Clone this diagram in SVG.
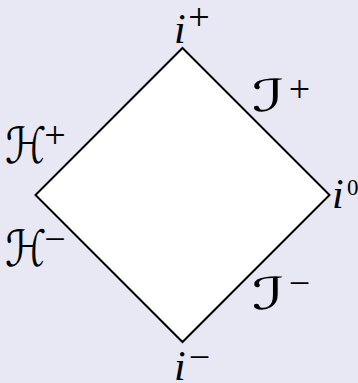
<svg xmlns="http://www.w3.org/2000/svg" width="358" height="383" viewBox="0 0 358 383">
<style>
.bg{fill:#e8e8f5}
.dia{fill:#ffffff;stroke:#000000;stroke-width:2;stroke-linejoin:miter}
.lab{font-family:"Liberation Serif","DejaVu Serif",serif;font-style:italic;font-size:42px;fill:#000}
.scrH{font-family:"DejaVu Serif","DejaVu Sans",serif;font-size:50px;fill:#000}
.scrI{font-family:"DejaVu Serif","DejaVu Sans",serif;font-size:44px;fill:#000}
.sup{font-family:"Liberation Serif","DejaVu Serif",serif;font-style:normal;font-size:38px;fill:#000;text-anchor:middle}
.zero{font-family:"Liberation Serif","DejaVu Serif",serif;font-size:23px;fill:#000}
</style>
<rect class="bg" x="0" y="0" width="358" height="383"/>
<g id="connectors">
<polygon id="diamond" class="dia" points="182.5,48 329.5,195 182.5,342 35.5,195"/>
</g>
<g id="i-plus"><text class="lab" x="174" y="43">i</text><text class="sup" x="199" y="30">+</text></g>
<g id="i-minus"><text class="lab" x="174" y="380">i</text><text class="sup" x="199.5" y="370">−</text></g>
<g id="i-zero"><text class="lab" x="332" y="208">i</text><text class="zero" x="347" y="195">0</text></g>
<g id="H-plus"><text class="scrH" x="5" y="163" transform="translate(5,163) scale(0.84,1) translate(-5,-163)">ℋ</text><text class="sup" x="55" y="148">+</text></g>
<g id="H-minus"><text class="scrH" x="5" y="266" transform="translate(5,266) scale(0.84,1) translate(-5,-266)">ℋ</text><text class="sup" x="55" y="252">−</text></g>
<g id="scri-plus"><text class="scrI" x="252" y="111" transform="translate(252,111) scale(1.6,1) translate(-252,-111)">ℐ</text><text class="sup" x="299.5" y="102">+</text></g>
<g id="scri-minus"><text class="scrI" x="252" y="309" transform="translate(252,309) scale(1.6,1) translate(-252,-309)">ℐ</text><text class="sup" x="299.5" y="296">−</text></g>
</svg>
